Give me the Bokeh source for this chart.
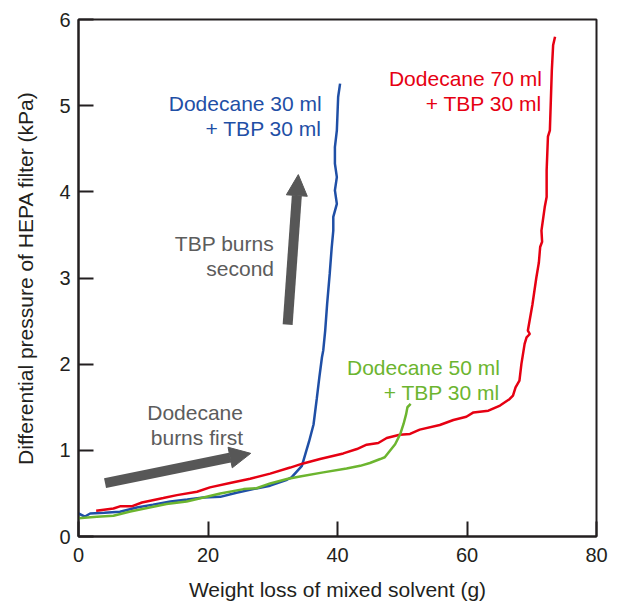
from bokeh.plotting import figure
from bokeh.models import Range1d, FixedTicker, Arrow, NormalHead
from bokeh.core.properties import value
from bokeh.embed import file_html
from bokeh.resources import INLINE

# ---- data ----
blue_x = [0, 1.0, 1.8, 4.0, 6.4, 9.0, 11.5, 14.2, 16.8, 19.3, 21.9, 24.4, 27.0, 29.6, 32.2, 32.9,
          34.5, 35.2, 35.6, 36.3, 36.8, 37.2, 37.6, 37.8, 38.1, 38.4, 38.8, 39.1, 39.35, 39.35,
          39.9, 39.6, 39.9, 39.6, 39.6, 39.9, 40.1, 40.4]
blue_y = [0.267, 0.232, 0.267, 0.275, 0.287, 0.337, 0.37, 0.407, 0.43, 0.453, 0.46, 0.508, 0.55,
          0.59, 0.659, 0.686, 0.82, 1.0, 1.1, 1.3, 1.6, 1.85, 2.08, 2.16, 2.39, 2.7, 3.05, 3.35,
          3.55, 3.71, 3.86, 4.017, 4.17, 4.327, 4.52, 4.714, 5.1, 5.256]

red_x = [2.73, 5.4, 6.4, 8.2, 9.8, 13.1, 15.2, 18.3, 20.3, 23.4, 26.5, 29.6, 32.7, 34.7, 37.3,
         40.9, 43.0, 44.5, 46.3, 47.6, 49.6, 51.2, 52.7, 55.8, 57.9, 59.9, 61.0, 63.3, 65.1, 66.6,
         67.1, 67.5, 68.1, 68.4, 68.9, 69.2, 69.7, 69.4, 70.1, 70.7, 71.1, 71.3, 71.6, 71.5, 72.0,
         72.3, 72.3, 72.5, 72.8, 73.1, 73.3, 73.6]
red_y = [0.30, 0.325, 0.35, 0.35, 0.395, 0.446, 0.48, 0.52, 0.57, 0.62, 0.67, 0.73, 0.80, 0.848,
         0.90, 0.964, 1.015, 1.066, 1.085, 1.143, 1.18, 1.19, 1.24, 1.294, 1.352, 1.39, 1.44, 1.46,
         1.52, 1.596, 1.635, 1.73, 1.81, 2.0, 2.235, 2.31, 2.35, 2.39, 2.69, 3.0, 3.18, 3.36, 3.42,
         3.55, 3.82, 3.94, 4.25, 4.64, 4.714, 5.41, 5.70, 5.80]

green_x = [0, 2.84, 5.4, 8.0, 10.6, 13.6, 16.7, 19.3, 21.9, 25.5, 27.5, 29.6, 32.2, 34.2, 37.8,
           41.4, 43.5, 45.0, 46.6, 47.3, 48.1, 48.9, 49.7, 50.2, 50.6, 50.8, 51.3]
green_y = [0.213, 0.229, 0.24, 0.29, 0.33, 0.377, 0.407, 0.453, 0.50, 0.55, 0.56, 0.616, 0.667,
           0.697, 0.744, 0.79, 0.82, 0.853, 0.899, 0.92, 0.996, 1.07, 1.19, 1.306, 1.42, 1.5, 1.538]

x_ticks = [0, 20, 40, 60, 80]
y_ticks = [0, 1, 2, 3, 4, 5, 6]

# annotation labels: (lines, right-edge x, baselines y, colour)
labels = [
    (["Dodecane 30 ml", "+ TBP 30 ml"], 37.56, [5.024, 4.731], "#1f4fa6"),
    (["Dodecane 70 ml", "+ TBP 30 ml"], 71.56, [5.315, 5.024], "#e60012"),
    (["Dodecane 50 ml", "+ TBP 30 ml"], 65.08, [1.963, 1.673], "#6cb52f"),
    (["TBP burns", "second"], 30.2, [3.404, 3.107], "#5c5c5c"),
    (["Dodecane", "burns first"], 25.4, [1.434, 1.150], "#5c5c5c"),
]
arrows = [((4.1, 0.62), (26.6, 0.965)), ((32.3, 2.46), (33.95, 4.20))]

FONT = "Liberation Sans"
AX = "#231f20"

p = figure(width=610, height=603, output_backend="svg", toolbar_location=None,
           x_range=Range1d(0, 80), y_range=Range1d(0, 6),
           min_border_left=78, min_border_right=14, min_border_top=19, min_border_bottom=67)
p.background_fill_color = "white"
p.border_fill_color = "white"
p.xgrid.visible = False
p.ygrid.visible = False
p.outline_line_color = AX
p.outline_line_width = 2
p.outline_line_alpha = 1

p.xaxis.ticker = FixedTicker(ticks=x_ticks)
p.yaxis.ticker = FixedTicker(ticks=y_ticks)
for ax in (p.xaxis, p.yaxis):
    ax.axis_line_color = AX
    ax.axis_line_width = 2
    ax.major_tick_line_color = AX
    ax.major_tick_line_width = 2
    ax.major_tick_in = 15
    ax.major_tick_out = 0
    ax.minor_tick_line_color = None
    ax.major_label_text_font = FONT
    ax.major_label_text_font_size = "20px"
    ax.major_label_text_color = "#231f20"
    ax.axis_label_text_font = FONT
    ax.axis_label_text_font_size = "21px"
    ax.axis_label_text_font_style = "normal"
    ax.axis_label_text_color = "#231f20"
p.xaxis.axis_label = "Weight loss of mixed solvent (g)"
p.yaxis.axis_label = "Differential pressure of HEPA filter (kPa)"
p.xaxis.major_label_standoff = 11
p.xaxis.axis_label_standoff = 13
p.yaxis.major_label_standoff = 8
p.yaxis.axis_label_standoff = 19

p.line(blue_x, blue_y, line_color="#1f4fa6", line_width=2.5)
p.line(red_x, red_y, line_color="#e60012", line_width=2.5)
p.line(green_x, green_y, line_color="#6cb52f", line_width=2.5)

for (x0, y0), (x1, y1) in arrows:
    p.add_layout(Arrow(x_start=x0, y_start=y0, x_end=x1, y_end=y1,
                       line_color="#575757", line_width=10,
                       end=NormalHead(size=21, fill_color="#575757", line_color="#575757",
                                      line_width=1)))

for lines, xr, ys, col in labels:
    p.text(x=[xr] * len(lines), y=ys, text=lines, text_align="right",
           text_baseline="alphabetic", text_color=col, text_font=value(FONT),
           text_font_size="21px")

open("out.html", "w").write(file_html(p, INLINE))
